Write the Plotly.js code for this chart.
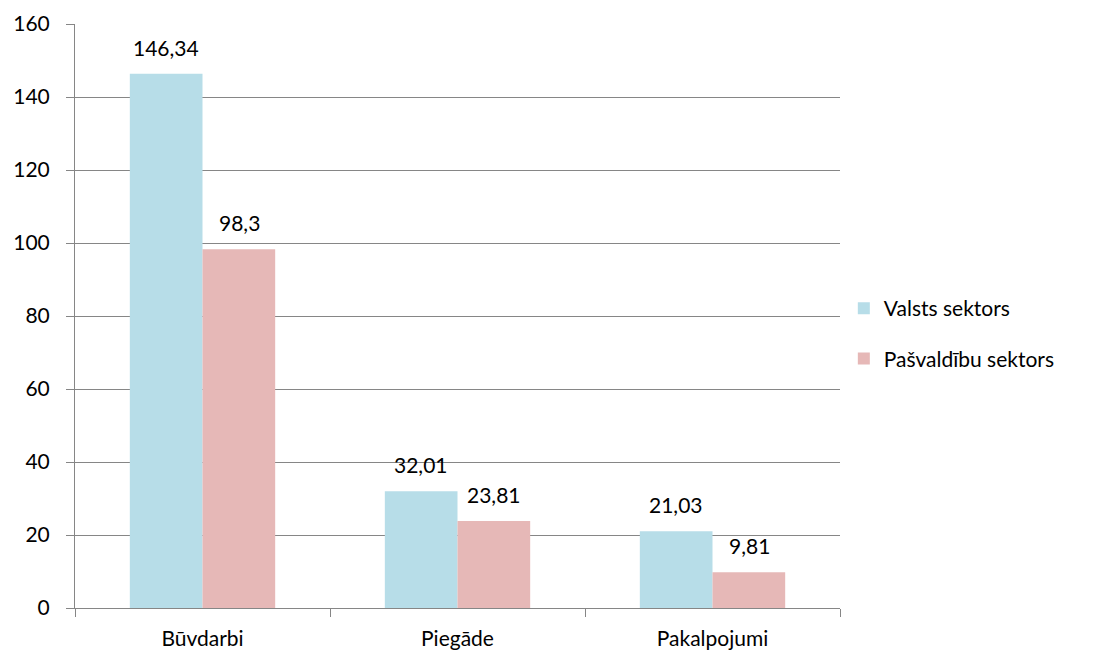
<!DOCTYPE html>
<html>
<head>
<meta charset="utf-8">
<script src="https://cdn.plot.ly/plotly-3.0.1.min.js"></script>
<style>
  html, body { margin: 0; padding: 0; background: #fff; }
  #chart { width: 1106px; height: 655px; }
</style>
</head>
<body>
<div id="chart"></div>
<script>
const categories = ['Būvdarbi', 'Piegāde', 'Pakalpojumi'];
const valsts = [146.34, 32.01, 21.03];
const pasvaldibu = [98.3, 23.81, 9.81];
const seriesNames = ['Valsts sektors', 'Pašvaldību sektors'];

const fmt = v => String(v).replace('.', ',');
const font = { family: 'Lato, "Open Sans", sans-serif', size: 21, color: '#000' };

const traces = [
  {
    type: 'bar', x: categories, y: valsts, name: seriesNames[0],
    marker: { color: '#B7DDE8' }, legendgroup: 'a'
  },
  {
    type: 'bar', x: categories, y: pasvaldibu, name: seriesNames[1],
    marker: { color: '#E6B8B7' }, legendgroup: 'b'
  }
];

// value labels above each bar, offset half a bar to left/right of the category centre
const annotations = [];
categories.forEach((c, i) => {
  annotations.push({ x: c, y: valsts[i], text: fmt(valsts[i]), showarrow: false,
    xshift: -36.5, yshift: 12, yanchor: 'bottom', font: font });
  annotations.push({ x: c, y: pasvaldibu[i], text: fmt(pasvaldibu[i]), showarrow: false,
    xshift: 36.5, yshift: 12, yanchor: 'bottom', font: font });
});

const layout = {
  width: 1106, height: 655,
  margin: { l: 75, r: 266, t: 24, b: 47 },
  paper_bgcolor: '#fff', plot_bgcolor: '#fff',
  font: font,
  barmode: 'group', bargap: 0.43, bargroupgap: 0,
  showlegend: true,
  legend: {
    x: 1.005, y: 0.47, yanchor: 'middle', xanchor: 'left',
    font: font, traceorder: 'grouped', tracegroupgap: 20, itemwidth: 30
  },
  annotations: annotations,
  xaxis: {
    type: 'category', showgrid: false, zeroline: false,
    showline: true, linecolor: '#868686', linewidth: 1,
    ticks: 'outside', tickson: 'boundaries', ticklen: 8, tickcolor: '#868686',
    tickfont: font, ticklabelstandoff: 12
  },
  yaxis: {
    range: [0, 160], dtick: 20, showgrid: true, gridcolor: '#868686', gridwidth: 1,
    zeroline: false, showline: true, linecolor: '#868686', linewidth: 1,
    ticks: 'outside', ticklen: 8, tickcolor: '#868686', tickfont: font,
    ticklabelstandoff: 12
  }
};

Plotly.newPlot('chart', traces, layout, { displayModeBar: false });
</script>
</body>
</html>
